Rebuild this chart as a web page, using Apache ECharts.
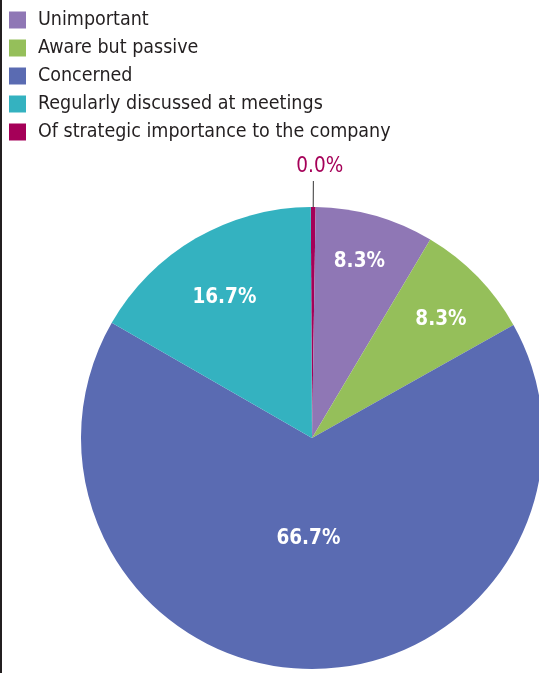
<!DOCTYPE html>
<html>
<head>
<meta charset="utf-8">
<style>
  html, body { margin: 0; padding: 0; background: #fff; }
  #chart { width: 539px; height: 673px; }
</style>
<script src="https://cdn.jsdelivr.net/npm/echarts@6/dist/echarts.min.js"></script>
</head>
<body>
<div id="chart"></div>
<script>
// chart data
var categories = ['Unimportant', 'Aware but passive', 'Concerned', 'Regularly discussed at meetings', 'Of strategic importance to the company'];
var values = [1, 1, 8, 2, 0];
var colors = ['#8f77b5', '#95bf5a', '#5a6bb2', '#34b2c0', '#a50058'];

// drawing order round the pie (the empty one sits at 12 o'clock)
var sliceOrder = [4, 0, 1, 2, 3];
// label nudges, by category
var labelShift = [[15, -62], [44, -36], [-3, -18], [-28, -38], [-22, -14]];

var total = values.reduce(function (a, b) { return a + b; }, 0);
var FONT = "'Liberation Sans Narrow', 'Arial Narrow', 'DejaVu Sans Condensed', sans-serif";

var seriesData = sliceOrder.map(function (i) {
  var item = {
    name: categories[i],
    value: values[i],
    itemStyle: { color: colors[i] }
  };
  if (values[i] === 0) {
    item.label = {
      position: 'outside',
      color: colors[i],
      fontWeight: 'normal'
    };
    item.labelLine = {
      show: true,
      length: 26,
      length2: 0,
      lineStyle: { color: '#333', width: 1 }
    };
  }
  return item;
});

var chart = echarts.init(document.getElementById('chart'));
chart.setOption({
  animation: false,
  graphic: [{
    type: 'rect',
    left: 0, top: 0,
    shape: { width: 2, height: 673 },
    style: { fill: '#231f20' }
  }],
  legend: {
    orient: 'vertical',
    left: 9,
    top: 10,
    padding: 0,
    itemWidth: 17,
    itemHeight: 17,
    itemGap: 8,
    icon: 'rect',
    selectedMode: false,
    data: categories,
    textStyle: { fontFamily: FONT, fontSize: 19.5, color: '#231f20', padding: [0, 0, 0, 7] }
  },
  series: [{
    type: 'pie',
    center: [312, 438],
    radius: 231,
    startAngle: 90.3,
    minAngle: 1.2,
    clockwise: true,
    avoidLabelOverlap: false,
    emphasis: { disabled: true },
    label: {
      show: true,
      position: 'inside',
      fontFamily: FONT,
      fontSize: 20.5,
      fontWeight: 'bold',
      color: '#fff',
      formatter: function (p) {
        return (p.value / total * 100).toFixed(1) + '%';
      }
    },
    labelLayout: function (p) {
      var s = labelShift[sliceOrder[p.dataIndex]];
      return { dx: s[0], dy: s[1] };
    },
    data: seriesData
  }]
});
</script>
</body>
</html>
